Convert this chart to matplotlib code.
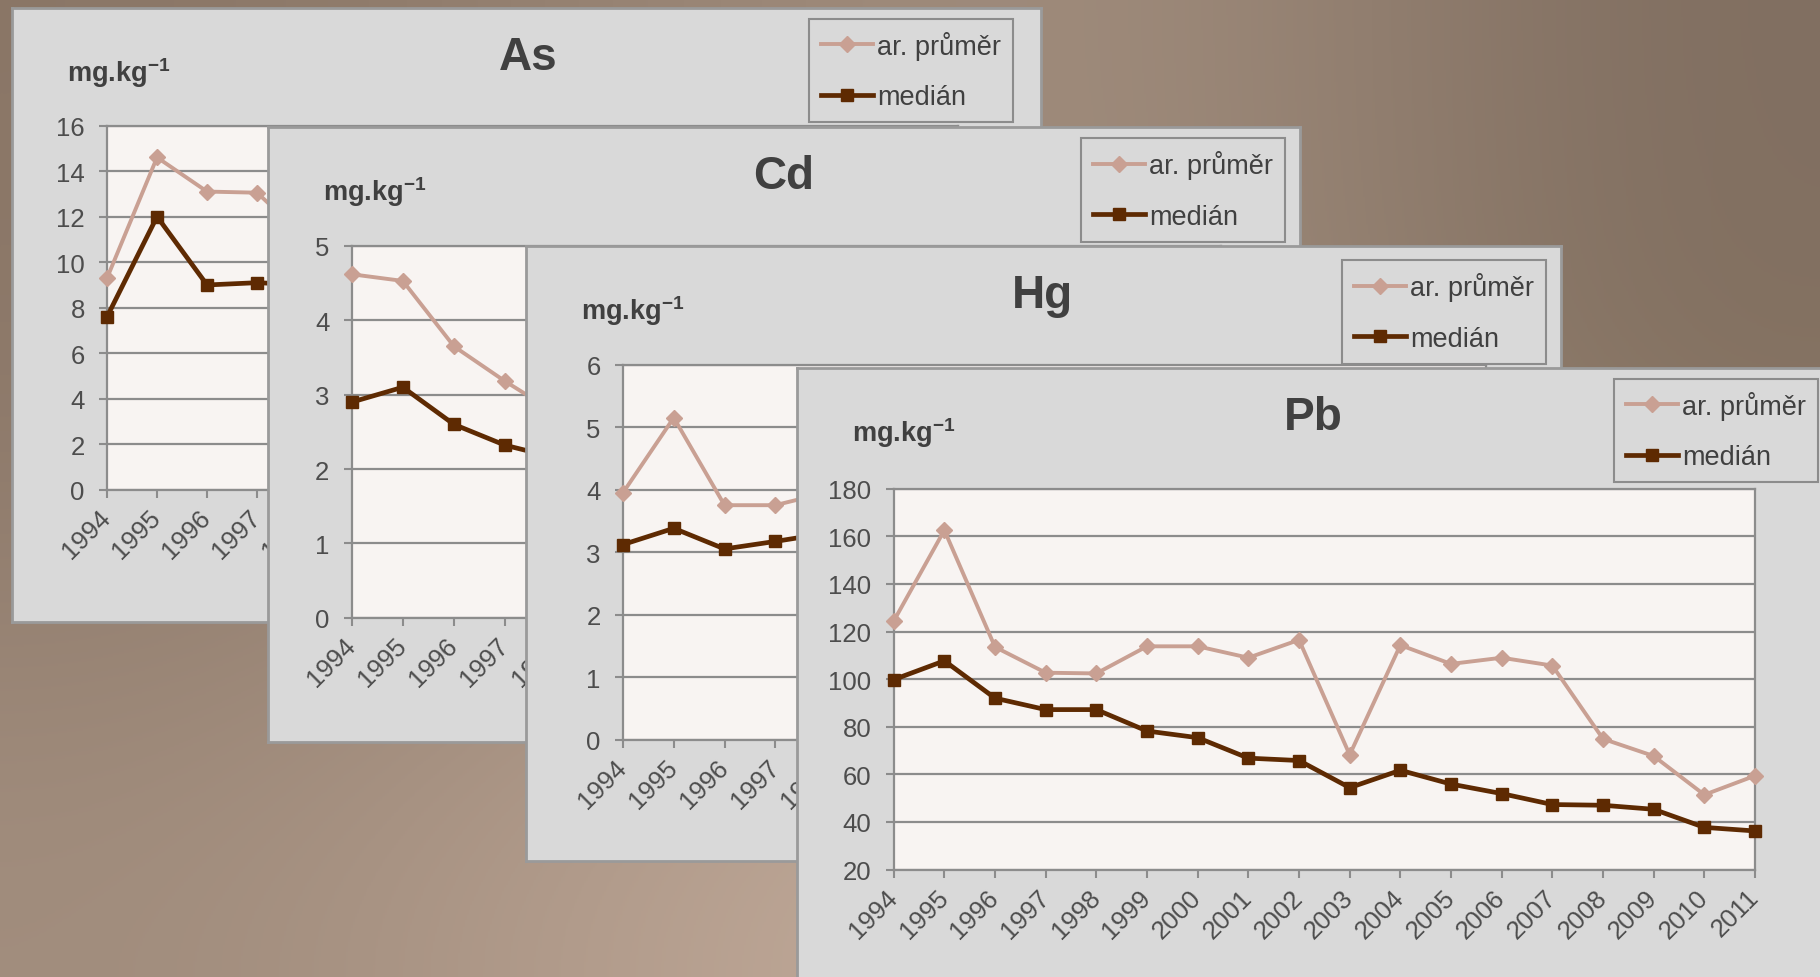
import numpy as np
import matplotlib.pyplot as plt
from matplotlib.colors import to_rgb

plt.rcParams['font.family'] = ['Liberation Sans', 'DejaVu Sans']
plt.rcParams['mathtext.fontset'] = 'custom'
plt.rcParams['mathtext.rm'] = 'Liberation Sans'
plt.rcParams['mathtext.bf'] = 'Liberation Sans:bold'

W, H = 1820, 978

years = list(range(1994, 2012))
year_labels = [str(y) for y in years]

# As, Cd, Hg: only the first years are readable, the rest sits under the next sheet
as_mean = [9.3, 14.6, 13.1, 13.05, 11.0]
as_median = [7.6, 12.0, 9.0, 9.1, 9.0]
cd_mean = [4.62, 4.53, 3.65, 3.18, 2.75]
cd_median = [2.9, 3.1, 2.6, 2.32, 2.15]
hg_mean = [3.95, 5.15, 3.75, 3.75, 3.95]
hg_median = [3.12, 3.38, 3.05, 3.17, 3.3]
pb_mean = [124.4, 162.6, 113.5, 102.7, 102.4, 113.8, 113.8, 109.0, 116.5,
           68.2, 114.3, 106.4, 109.0, 105.7, 74.9, 67.7, 51.4, 59.4]
pb_median = [99.8, 107.7, 92.0, 87.2, 87.2, 78.2, 75.4, 66.8, 65.8,
             54.4, 61.7, 55.9, 51.9, 47.3, 47.0, 45.3, 37.7, 36.2]

elements = ['As', 'Cd', 'Hg', 'Pb']
means = [as_mean, cd_mean, hg_mean, pb_mean]
medians = [as_median, cd_median, hg_median, pb_median]
yticks = [range(0, 17, 2), range(0, 6), range(0, 7), range(20, 181, 20)]

# sheet geometry in pixels: panel box, plot box, legend top-right corner
panels = [
    dict(box=(12, 9, 1041, 623), plot=(107, 126.5, 957.6, 491), leg=(1013, 19.7)),
    dict(box=(268, 128, 1300, 743), plot=(351.7, 247, 1221, 618.7), leg=(1285, 139.3)),
    dict(box=(526, 247, 1561, 862), plot=(623, 365.6, 1486, 740.5), leg=(1546, 261)),
    dict(box=(797, 369, 1832, 988), plot=(893.7, 489.8, 1755, 870.5), leg=(1818, 379.5)),
]

MEAN_C = '#c9a093'
MEDIAN_C = '#5e2a02'
PANEL_C = '#d9d9d9'
GRID_C = '#8c8c8c'
TEXT_C = '#404040'


def rect(x0, y0, x1, y1):
    return [x0 / W, 1 - y1 / H, (x1 - x0) / W, (y1 - y0) / H]


fig = plt.figure(figsize=(W / 100, H / 100), dpi=100)

# brownish backdrop
bg = fig.add_axes([0, 0, 1, 1], zorder=0)
bg_colors = [
    ['#8a7666', '#9a8676', '#a38f7f', '#806e60'],
    ['#8e7a6b', '#9c8878', '#a69282', '#83715f'],
    ['#a18d7d', '#b9a292', '#c7b09f', '#b09888'],
]
bg.imshow(np.array([[to_rgb(c) for c in row] for row in bg_colors]),
          aspect='auto', interpolation='bicubic', extent=[0, 1, 0, 1])
bg.axis('off')

for i, (name, mean, median, yt, p) in enumerate(zip(elements, means, medians, yticks, panels)):
    bx0, by0, bx1, by1 = p['box']

    pax = fig.add_axes(rect(*p['box']), zorder=2 * i + 1)
    pax.set_facecolor(PANEL_C)
    pax.set_xticks([])
    pax.set_yticks([])
    for s in pax.spines.values():
        s.set_color('#9a9a9a')
        s.set_linewidth(2)
    pax.text((bx0 + 516) / W, 1 - (by0 + 49) / H, name, transform=fig.transFigure,
             ha='center', va='center', fontsize=33, fontweight='bold', color=TEXT_C)
    pax.text((bx0 + 55) / W, 1 - (by0 + 73) / H, r'mg.kg$^{\mathbf{-1}}$',
             transform=fig.transFigure, ha='left', va='baseline',
             fontsize=19.5, fontweight='bold', color=TEXT_C)

    ax = fig.add_axes(rect(*p['plot']), zorder=2 * i + 2)
    ax.set_facecolor('#f8f4f2')
    n = len(mean)
    ax.plot(years[:n], mean, color=MEAN_C, lw=2.8, marker='D', ms=8,
            label='ar. průměr', clip_on=False, zorder=3)
    ax.plot(years[:n], median, color=MEDIAN_C, lw=3.4, marker='s', ms=8,
            label='medián', clip_on=False, zorder=4)
    ax.set_xlim(years[0], years[-1])
    ax.set_ylim(yt[0], yt[-1])
    ax.set_yticks(list(yt))
    ax.set_xticks(years)
    ax.set_xticklabels(year_labels, rotation=45, ha='right', va='center',
                       rotation_mode='anchor')
    ax.grid(axis='y', color=GRID_C, lw=1.6)
    ax.set_axisbelow(True)
    for s in ax.spines.values():
        s.set_color(GRID_C)
        s.set_linewidth(1.6)
    ax.tick_params(axis='both', direction='out', length=6, width=1.5,
                   color=GRID_C, labelcolor='#4d4d4d', labelsize=18.5)
    ax.tick_params(axis='y', pad=10)
    ax.tick_params(axis='x', pad=11)

    leg = ax.legend(loc='upper right', bbox_to_anchor=(p['leg'][0] / W, 1 - p['leg'][1] / H),
                    bbox_transform=fig.transFigure, fontsize=19.5, frameon=True,
                    fancybox=False, edgecolor=GRID_C, facecolor=PANEL_C, framealpha=1,
                    handlelength=1.9, handletextpad=0.15, labelspacing=0.9,
                    borderpad=0.45, borderaxespad=0, labelcolor=TEXT_C)
    leg.get_frame().set_linewidth(1.5)

fig.savefig('out.png', dpi=100)
